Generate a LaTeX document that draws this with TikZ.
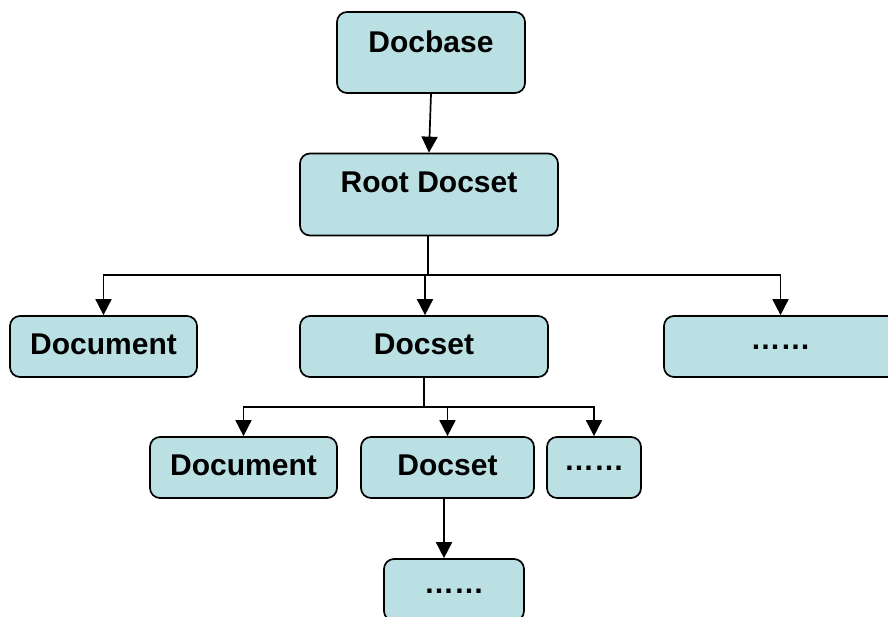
\documentclass[tikz,border=0pt]{standalone}
\usepackage{fontspec}
\setmainfont{Liberation Sans}
\usetikzlibrary{arrows.meta,calc}
\definecolor{boxfill}{HTML}{BBE0E3}
\tikzset{
  box/.style={draw=black, line width=1.7pt, fill=boxfill, rounded corners=10pt, inner sep=0pt, anchor=center},
  lbl/.style={font=\fontsize{30}{34}\selectfont\bfseries, inner sep=0pt, anchor=center},
  conn/.style={line width=1.7pt, draw=black},
  arr/.style={conn, -{Triangle[length=16pt,width=16pt]}}
}
\begin{document}
\begin{tikzpicture}[x=1pt,y=-1pt]
\useasboundingbox (0,0) rectangle (888,616);
% level 0
\node[box, minimum width=188pt, minimum height=81pt] (docbase) at (431,52.5) {};
\node[lbl] (docbaseT) at ($(docbase.center)+(0,-11)$) {Docbase};
% level 1
\node[box, minimum width=258pt, minimum height=82pt] (root) at (429,194.5) {};
\node[lbl] (rootT) at ($(root.center)+(0,-12)$) {Root Docset};
% level 2
\node[box, minimum width=187pt, minimum height=61pt] (doc1) at (103.5,346.5) {};
\node[lbl] (doc1T) at ($(doc1.center)+(0,-2)$) {Document};
\node[box, minimum width=248pt, minimum height=61pt] (set1) at (424,346.5) {};
\node[lbl] (set1T) at ($(set1.center)+(0,-2)$) {Docset};
\node[box, minimum width=233pt, minimum height=61pt] (more1) at (780.5,346.5) {};
\node[lbl] (more1T) at ($(more1.center)+(0,1)$) {……};
% level 3
\node[box, minimum width=187pt, minimum height=61pt] (doc2) at (243.5,467.5) {};
\node[lbl] (doc2T) at ($(doc2.center)+(0,-2)$) {Document};
\node[box, minimum width=173pt, minimum height=61pt] (set2) at (447.5,467.5) {};
\node[lbl] (set2T) at ($(set2.center)+(0,-2)$) {Docset};
\node[box, minimum width=94pt, minimum height=61pt] (more2) at (594,467.5) {};
\node[lbl] (more2T) at ($(more2.center)+(0,1)$) {……};
% level 4
\node[box, minimum width=140pt, minimum height=62pt] (more3) at (454,590) {};
\node[lbl] (more3T) at ($(more3.center)+(0,1)$) {……};
% connectors
\draw[arr] (docbase.south) -- (root.north);
\coordinate (bus1) at (428,275);
\draw[conn] ([xshift=-1pt]root.south) -- (bus1);
\draw[arr] (bus1) -| (doc1.north);
\draw[arr] (bus1) -| ([xshift=1pt]set1.north);
\draw[arr] (bus1) -| (more1.north);
\coordinate (bus2) at (424,407);
\draw[conn] (set1.south) -- (bus2);
\draw[arr] (bus2) -| (doc2.north);
\draw[arr] (bus2) -| (set2.north);
\draw[arr] (bus2) -| (more2.north);
\draw[arr] ([xshift=-3.5pt]set2.south) -- ([xshift=-3.5pt]set2.south |- more3.north);
\end{tikzpicture}
\end{document}
